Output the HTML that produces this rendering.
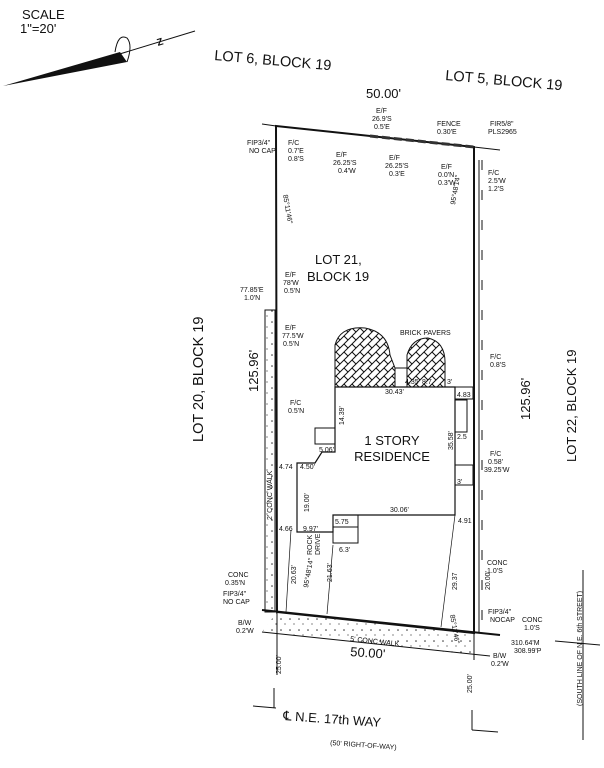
<!DOCTYPE html>
<html><head><meta charset="utf-8"><style>
html,body{margin:0;padding:0;background:#fff}
svg{display:block}
text{font-family:"Liberation Sans",sans-serif;fill:#111}
.s{font-size:7px}
.m{font-size:10px}
.l{font-size:13px}
.xl{font-size:14.5px}
</style></head><body>
<svg width="604" height="768" viewBox="0 0 604 768" xmlns="http://www.w3.org/2000/svg">
<defs>
<pattern id="hb" width="8" height="8" patternUnits="userSpaceOnUse">
<path d="M0 8L8 0M-2 2L2 -2M6 10L10 6" stroke="#111" stroke-width="1"/>
<path d="M0 0L4 4" stroke="#111" stroke-width="1"/>
</pattern>
<pattern id="dots" width="9" height="11" patternUnits="userSpaceOnUse">
<circle cx="2" cy="3" r="0.8" fill="#333"/><circle cx="6" cy="8" r="0.6" fill="#333"/>
</pattern>
</defs>
<rect width="604" height="768" fill="#fff"/>
<text x="22" y="19" class="l">SCALE</text>
<text x="20" y="33" class="l">1"=20'</text>
<path d="M3 86 L120 52 L127 62 Z" fill="#111"/>
<path d="M115 52 Q118 33 127 38 Q133 45 127 62" fill="none" stroke="#111"/>
<line x1="100" y1="60" x2="195" y2="31" stroke="#111"/>
<text x="158" y="46" class="m" transform="rotate(-17 158 46)" font-weight="bold">Z</text>
<text x="214" y="60" class="xl" transform="rotate(5 214 60)">LOT 6, BLOCK 19</text>
<text x="445" y="80" class="xl" transform="rotate(5 445 80)">LOT 5, BLOCK 19</text>
<text x="366" y="98" class="l">50.00'</text>
<path d="M276 126 L474 147 L474 633 L277 612 Z" fill="none" stroke="#111" stroke-width="2"/>
<line x1="262" y1="124" x2="276" y2="126" stroke="#111"/>
<line x1="474" y1="147" x2="500" y2="150" stroke="#111"/>
<line x1="479" y1="160" x2="479" y2="632" stroke="#111"/>
<line x1="482" y1="160" x2="482" y2="632" stroke="#111" stroke-dasharray="10 20"/>
<line x1="370" y1="136" x2="474" y2="147" stroke="#333" stroke-width="3" stroke-dasharray="8 4"/>
<g class="s">
<text x="247" y="145">FIP3/4"</text><text x="249" y="153">NO CAP</text>
<text x="288" y="145">F/C</text><text x="288" y="153">0.7'E</text><text x="288" y="161">0.8'S</text>
<text x="376" y="113">E/F</text><text x="372" y="121">26.9'S</text><text x="374" y="129">0.5'E</text>
<text x="336" y="157">E/F</text><text x="333" y="165">26.25'S</text><text x="338" y="173">0.4'W</text>
<text x="389" y="160">E/F</text><text x="385" y="168">26.25'S</text><text x="389" y="176">0.3'E</text>
<text x="437" y="126">FENCE</text><text x="437" y="134">0.30'E</text>
<text x="490" y="126">FIR5/8"</text><text x="488" y="134">PLS2965</text>
<text x="441" y="169">E/F</text><text x="438" y="177">0.0'N</text><text x="438" y="185">0.3'W</text>
<text x="488" y="175">F/C</text><text x="488" y="183">2.5'W</text><text x="488" y="191">1.2'S</text>
<text x="283" y="195" transform="rotate(80 283 195)">85°11'46"</text>
<text x="455" y="205" transform="rotate(-80 455 205)">95°48'14"</text>
</g>
<text x="315" y="264" class="l">LOT 21,</text>
<text x="307" y="281" class="l">BLOCK 19</text>
<text x="203" y="442" class="xl" transform="rotate(-90 203 442)">LOT 20, BLOCK 19</text>
<text x="258" y="392" class="l" transform="rotate(-90 258 392)">125.96'</text>
<text x="530" y="420" class="l" transform="rotate(-90 530 420)">125.96'</text>
<text x="576" y="462" class="l" transform="rotate(-90 576 462)">LOT 22, BLOCK 19</text>
<rect x="265" y="310" width="10" height="302" fill="url(#dots)" stroke="#111"/>
<text x="272" y="520" class="s" transform="rotate(-90 272 520)">2' CONC WALK</text>
<g class="s">
<text x="240" y="292">77.85'E</text><text x="244" y="300">1.0'N</text>
<text x="285" y="277">E/F</text><text x="283" y="285">78'W</text><text x="284" y="293">0.5'N</text>
<text x="285" y="330">E/F</text><text x="282" y="338">77.5'W</text><text x="283" y="346">0.5'N</text>
<text x="290" y="405">F/C</text><text x="288" y="413">0.5'N</text>
<text x="400" y="335">BRICK PAVERS</text>
<text x="490" y="359">F/C</text><text x="490" y="367">0.8'S</text>
<text x="490" y="456">F/C</text><text x="488" y="464">0.58'</text><text x="484" y="472">39.25'W</text>
<text x="487" y="565">CONC</text><text x="487" y="573">1.0'S</text>
<text x="228" y="577">CONC</text><text x="225" y="585">0.35'N</text>
<text x="223" y="596">FIP3/4"</text><text x="223" y="604">NO CAP</text>
<text x="238" y="625">B/W</text><text x="236" y="633">0.2'W</text>
<text x="488" y="614">FIP3/4"</text><text x="490" y="622">NOCAP</text>
<text x="522" y="622">CONC</text><text x="524" y="630">1.0'S</text>
<text x="511" y="645">310.64'M</text><text x="514" y="653">308.99'P</text>
<text x="493" y="658">B/W</text><text x="491" y="666">0.2'W</text>
</g>
<path d="M335 387 L335 345 Q340 326 365 328 Q388 332 390 355 L395 368 L407 368 L407 355 Q412 338 428 338 Q446 342 445 365 L445 387 Z" fill="url(#hb)" stroke="#111"/>
<rect x="395" y="368" width="12" height="19" fill="#fff" stroke="#111"/>
<path d="M335 387 L455 387 L455 515 L333 515 L333 532 L297 532 L297 463 L315 463 L322 452 L335 452 Z" fill="#fff" stroke="#111" stroke-width="1.2"/>
<rect x="315" y="428" width="20" height="16" fill="none" stroke="#111"/>
<rect x="333" y="515" width="25" height="12" fill="none" stroke="#111"/>
<rect x="333" y="527" width="25" height="16" fill="none" stroke="#111"/>
<rect x="455" y="387" width="18" height="12" fill="none" stroke="#111"/>
<rect x="455" y="400" width="12" height="32" fill="none" stroke="#111"/>
<rect x="455" y="465" width="18" height="20" fill="none" stroke="#111"/>
<text x="392" y="445" class="l" text-anchor="middle">1 STORY</text>
<text x="392" y="461" class="l" text-anchor="middle">RESIDENCE</text>
<g class="s">
<text x="385" y="394">30.43'</text><text x="405" y="384">4.35</text><text x="422" y="384">8.7</text><text x="447" y="384">3'</text>
<text x="457" y="397">4.83</text><text x="457" y="439">2.5</text><text x="457" y="484">3'</text>
<text x="390" y="512">30.06'</text><text x="458" y="523">4.91</text>
<text x="279" y="469">4.74</text><text x="300" y="469">4.50'</text><text x="319" y="452">5.06'</text>
<text x="279" y="531">4.66</text><text x="303" y="531">9.97'</text><text x="335" y="524">5.75</text><text x="339" y="552">6.3'</text>
<text x="309" y="512" transform="rotate(-90 309 512)">19.00'</text>
<text x="344" y="425" transform="rotate(-90 344 425)">14.39'</text>
<text x="453" y="450" transform="rotate(-90 453 450)">35.58'</text>
<text x="296" y="584" transform="rotate(-90 296 584)">20.63'</text>
<text x="332" y="582" transform="rotate(-90 332 582)">21.63'</text>
<text x="457" y="590" transform="rotate(-90 457 590)">29.37</text>
<text x="490" y="590" transform="rotate(-90 490 590)">20.00'</text>
<text x="312" y="555" transform="rotate(-90 312 555)">ROCK</text>
<text x="320" y="555" transform="rotate(-90 320 555)">DRIVE</text>
<text x="308" y="588" transform="rotate(-80 308 588)">95°48'14"</text>
<text x="450" y="615" transform="rotate(80 450 615)">85°11'46"</text>
</g>
<line x1="291" y1="530" x2="286" y2="612" stroke="#111" stroke-width="0.7"/>
<line x1="333" y1="545" x2="327" y2="614" stroke="#111" stroke-width="0.7"/>
<line x1="455" y1="515" x2="441" y2="627" stroke="#111" stroke-width="0.7"/>
<path d="M277 612 L474 633 L474 655 L262 632 Z" fill="url(#dots)"/>
<line x1="262" y1="632" x2="490" y2="656" stroke="#111"/>
<line x1="262" y1="610" x2="500" y2="635" stroke="#111" stroke-width="2"/>
<text x="350" y="641" class="s" transform="rotate(6 350 641)">5' CONC WALK</text>
<text x="350" y="656" class="l" transform="rotate(4 350 656)">50.00'</text>
<line x1="277" y1="612" x2="277" y2="660" stroke="#111"/>
<line x1="474" y1="633" x2="474" y2="660" stroke="#111"/>
<line x1="277" y1="650" x2="277" y2="675" stroke="#111"/>
<text x="281" y="674" class="s" transform="rotate(-90 281 674)">25.00'</text>
<text x="472" y="693" class="s" transform="rotate(-90 472 693)">25.00'</text>
<line x1="274" y1="688" x2="274" y2="708" stroke="#111"/>
<line x1="253" y1="706" x2="276" y2="708" stroke="#111"/>
<line x1="472" y1="710" x2="472" y2="730" stroke="#111"/>
<line x1="472" y1="730" x2="498" y2="732" stroke="#111"/>
<text x="283" y="720" class="l" transform="rotate(4 283 720)">℄ N.E.  17th  WAY</text>
<text x="330" y="745" class="s" transform="rotate(4 330 745)">(50' RIGHT-OF-WAY)</text>
<line x1="583" y1="570" x2="583" y2="740" stroke="#111"/>
<line x1="555" y1="641" x2="600" y2="645" stroke="#111"/>
<text x="582" y="706" class="s" transform="rotate(-90 582 706)">(SOUTH LINE OF N.E. 6th STREET)</text>
</svg>
</body></html>
